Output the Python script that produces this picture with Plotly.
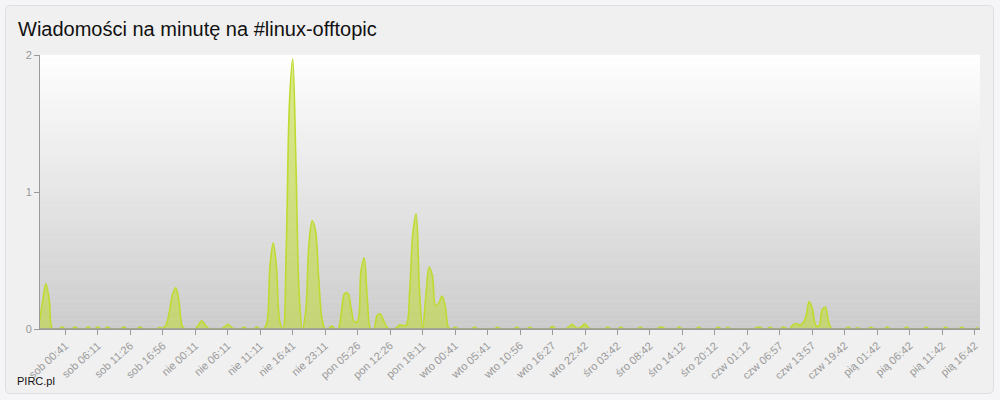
import plotly.graph_objects as go

title_text = "Wiadomości na minutę na #linux-offtopic"
footer_text = "PIRC.pl"

tick_labels = [
    "sob 00:41", "sob 06:11", "sob 11:26", "sob 16:56",
    "nie 00:11", "nie 06:11", "nie 11:11", "nie 16:41", "nie 23:11",
    "pon 05:26", "pon 12:26", "pon 18:11",
    "wto 00:41", "wto 05:41", "wto 10:56", "wto 16:27", "wto 22:42",
    "śro 03:42", "śro 08:42", "śro 14:12", "śro 20:12",
    "czw 01:12", "czw 06:57", "czw 13:57", "czw 19:42",
    "pią 01:42", "pią 06:42", "pią 11:42", "pią 16:42",
]
# one tick label every 10 samples, first label at sample 8
tick_first_sample = 8
samples_per_tick = 10

# messages per minute, one value per sample (rows of 10 samples)
values = [
    0.05, 0.2, 0.33, 0.22, 0, 0, 0, 0.015, 0, 0,
    0, 0.015, 0, 0, 0, 0.015, 0, 0, 0.015, 0,
    0, 0.015, 0, 0, 0, 0, 0.015, 0, 0, 0,
    0, 0.015, 0, 0, 0, 0, 0, 0.01, 0.005, 0.03,
    0.12, 0.25, 0.30, 0.2, 0.02, 0, 0, 0, 0, 0.03,
    0.06, 0.03, 0.005, 0, 0, 0, 0, 0.015, 0.035, 0.015,
    0, 0, 0, 0.012, 0, 0, 0, 0.015, 0, 0,
    0.04, 0.46, 0.63, 0.45, 0.06, 0, 0.58, 1.65, 1.97, 1.2,
    0.25, 0, 0.13, 0.62, 0.79, 0.72, 0.37, 0.08, 0, 0,
    0.024, 0, 0, 0.13, 0.26, 0.26, 0.15, 0.05, 0.06, 0.42,
    0.52, 0.21, 0, 0, 0.1, 0.11, 0.06, 0.015, 0, 0,
    0.01, 0.03, 0.025, 0.03, 0.27, 0.7, 0.84, 0.3, 0, 0.24,
    0.45, 0.39, 0.17, 0.19, 0.24, 0.16, 0.01, 0, 0.012, 0,
    0, 0, 0, 0, 0.012, 0, 0, 0, 0, 0,
    0, 0.012, 0, 0, 0, 0, 0, 0.012, 0, 0,
    0, 0.012, 0, 0, 0, 0, 0, 0, 0.02, 0,
    0, 0, 0, 0.015, 0.035, 0.012, 0.005, 0.02, 0.036, 0.01,
    0, 0, 0, 0, 0, 0.012, 0, 0, 0, 0.012,
    0, 0, 0, 0, 0, 0.012, 0, 0, 0, 0,
    0, 0.012, 0.01, 0, 0, 0, 0, 0.012, 0, 0,
    0, 0, 0, 0.012, 0, 0, 0, 0, 0, 0.012,
    0, 0, 0.01, 0, 0, 0, 0, 0, 0, 0,
    0, 0.012, 0.01, 0, 0, 0.012, 0, 0, 0, 0.012,
    0.005, 0, 0.03, 0.04, 0.03, 0.04, 0.09, 0.2, 0.15, 0.03,
    0.02, 0.14, 0.16, 0.05, 0, 0, 0, 0, 0, 0.012,
    0, 0, 0.008, 0, 0, 0, 0.012, 0, 0, 0,
    0, 0.012, 0, 0, 0, 0, 0, 0.012, 0, 0,
    0, 0, 0, 0.012, 0, 0, 0, 0, 0, 0.012,
    0, 0, 0, 0, 0.012, 0, 0, 0, 0, 0.012,
]
y_ticks = [0, 1, 2]

samples = list(range(len(values)))
tick_positions = [tick_first_sample + samples_per_tick * k for k in range(len(tick_labels))]

W, H = 1000, 400
ML, MR, MT, MB = 40, 20, 55, 71
PW, PH = W - ML - MR, H - MT - MB

def px_x(p):
    return (p - ML) / PW

def px_y(p):
    return (H - MB - p) / PH

line_col = "rgb(192,218,48)"
fill_col = "rgba(192,218,48,0.55)"
axis_col = "#9a9a9a"
page_bg = "#f5f5f7"
font_family = "Liberation Sans, Arial, sans-serif"

fig = go.Figure()
fig.add_trace(go.Scatter(
    x=samples, y=values, mode="lines",
    line=dict(color=line_col, width=1.6, shape="spline", smoothing=1),
    fill="tozeroy", fillcolor=fill_col,
    hoverinfo="skip", showlegend=False,
))

shapes = []
# outer rounded panel
x0, x1 = px_x(5.5), px_x(993.5)
y0, y1 = px_y(393.5), px_y(5.5)
rx, ry = 5 / PW, 5 / PH
path = (f"M {x0+rx},{y1} L {x1-rx},{y1} Q {x1},{y1} {x1},{y1-ry} "
        f"L {x1},{y0+ry} Q {x1},{y0} {x1-rx},{y0} L {x0+rx},{y0} "
        f"Q {x0},{y0} {x0},{y0+ry} L {x0},{y1-ry} Q {x0},{y1} {x0+rx},{y1} Z")
shapes.append(dict(type="path", path=path, xref="paper", yref="paper",
                   fillcolor="#f0f0f0", line=dict(color="#dedee2", width=1), layer="below"))
# vertical gradient in plot area: white at top to light grey at bottom
n_strips = 60
for s in range(n_strips):
    t = (s + 0.5) / n_strips
    g = round(255 - (255 - 204) * t)
    shapes.append(dict(type="rect", xref="paper", yref="paper",
                       x0=0, x1=1, y0=1 - (s + 1) / n_strips, y1=1 - s / n_strips + 0.001,
                       fillcolor=f"rgb({g},{g},{g})", line=dict(width=0), layer="below"))
# baseline cover
shapes.append(dict(type="line", xref="paper", yref="y", x0=0, x1=1, y0=0, y1=0,
                   line=dict(color=axis_col, width=1.5), layer="above"))

fig.update_layout(
    width=W, height=H,
    margin=dict(l=ML, r=MR, t=MT, b=MB),
    paper_bgcolor=page_bg,
    plot_bgcolor="#e6e6e6",
    font=dict(family=font_family, color="#999999", size=11),
    shapes=shapes,
    title=dict(text=title_text, x=18 / W, xanchor="left", xref="container",
               y=1 - 29 / H, yanchor="middle", yref="container",
               font=dict(family=font_family, size=20, color="#111111")),
    annotations=[dict(text=footer_text, x=px_x(15), y=px_y(381), xref="paper", yref="paper",
                      xanchor="left", yanchor="middle", showarrow=False,
                      font=dict(family=font_family, size=11, color="#111111"))],
    xaxis=dict(range=[0.2, 289.6], tickmode="array", tickvals=tick_positions, ticktext=tick_labels,
               tickangle=-42, ticks="outside", ticklen=5, tickcolor=axis_col,
               showline=True, linecolor=axis_col, linewidth=1, showgrid=False, zeroline=False,
               tickfont=dict(size=11, color="#999999"), fixedrange=True),
    yaxis=dict(range=[0, 2], tickmode="array", tickvals=y_ticks, ticks="outside", ticklen=5,
               tickcolor=axis_col, showline=True, linecolor=axis_col, linewidth=1,
               showgrid=False, zeroline=False, tickfont=dict(size=11, color="#999999"),
               fixedrange=True),
)

fig.write_html(
    "out.html",
    config={"displayModeBar": False},
    post_script=f"document.body.style.margin='0';document.body.style.background='{page_bg}';",
)
